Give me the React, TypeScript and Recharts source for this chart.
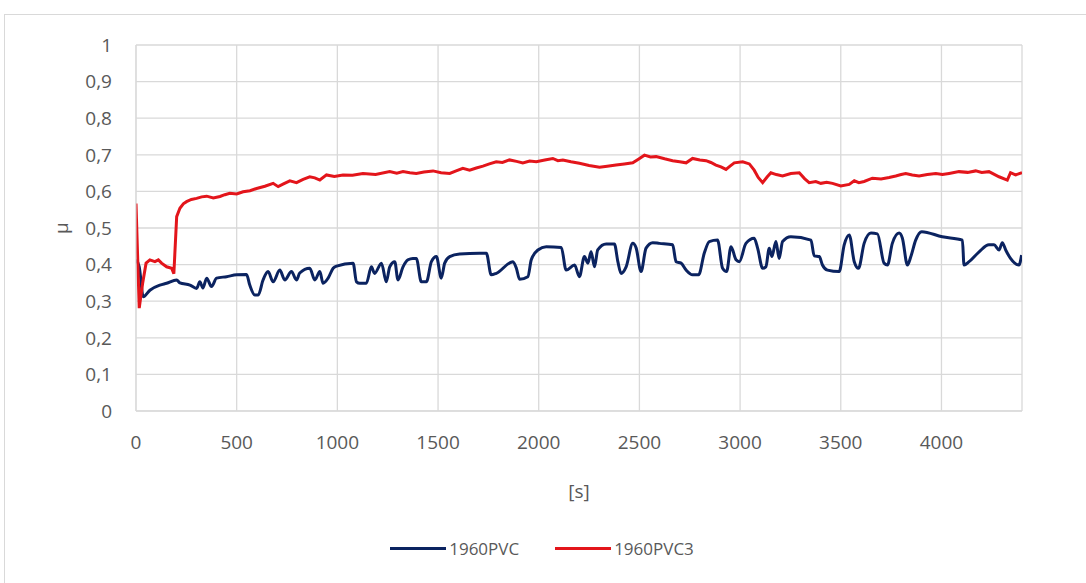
import { CartesianGrid, Legend, Line, LineChart, XAxis, YAxis } from "recharts";

// 1960PVC, time [s] and friction coefficient
const blueT = [
  0, 16, 36, 69, 119, 152, 202, 218, 268, 301, 317, 332, 351, 375, 400, 450, 500, 549, 565, 590,
  607, 631, 656, 681, 714, 739, 772, 797, 813, 863, 888, 913, 929, 954, 979, 996, 1078, 1095, 1111,
  1144, 1169, 1185, 1219, 1243, 1260, 1285, 1301, 1326, 1351, 1375, 1392, 1417, 1442, 1467, 1492,
  1516, 1533, 1558, 1607, 1706, 1740, 1764, 1789, 1872, 1889, 1905, 1946, 1963, 1996, 2037, 2112,
  2136, 2178, 2202, 2227, 2244, 2260, 2277, 2293, 2335, 2376, 2393, 2409, 2434, 2467, 2484, 2508,
  2533, 2566, 2599, 2665, 2682, 2707, 2732, 2764, 2794, 2822, 2847, 2888, 2913, 2933, 2955, 2980,
  2996, 3029, 3070, 3087, 3112, 3128, 3145, 3158, 3178, 3194, 3211, 3252, 3352, 3368, 3393, 3409,
  3434, 3492, 3517, 3542, 3567, 3588, 3616, 3650, 3682, 3715, 3732, 3756, 3790, 3806, 3831, 3848,
  3872, 3902, 4004, 4104, 4112, 4137, 4187, 4236, 4261, 4286, 4302, 4319, 4343, 4385, 4398,
];
const blueMu = [
  0.413, 0.394, 0.312, 0.33, 0.344, 0.349, 0.358, 0.35, 0.344, 0.335, 0.353, 0.336, 0.363, 0.34,
  0.363, 0.367, 0.372, 0.373, 0.344, 0.317, 0.317, 0.358, 0.381, 0.353, 0.385, 0.358, 0.381, 0.358,
  0.377, 0.39, 0.358, 0.381, 0.349, 0.363, 0.39, 0.396, 0.404, 0.353, 0.349, 0.349, 0.394, 0.376,
  0.404, 0.353, 0.394, 0.408, 0.358, 0.394, 0.413, 0.417, 0.417, 0.353, 0.353, 0.408, 0.422, 0.363,
  0.404, 0.422, 0.429, 0.431, 0.431, 0.372, 0.376, 0.408, 0.39, 0.36, 0.367, 0.413, 0.44, 0.449,
  0.447, 0.385, 0.399, 0.367, 0.422, 0.404, 0.435, 0.394, 0.44, 0.456, 0.456, 0.408, 0.376, 0.394,
  0.458, 0.445, 0.381, 0.445, 0.46, 0.458, 0.454, 0.408, 0.404, 0.385, 0.372, 0.372, 0.431, 0.463,
  0.467, 0.39, 0.381, 0.449, 0.413, 0.408, 0.458, 0.472, 0.445, 0.39, 0.394, 0.445, 0.422, 0.463,
  0.417, 0.463, 0.476, 0.467, 0.424, 0.422, 0.399, 0.385, 0.381, 0.454, 0.481, 0.408, 0.39, 0.458,
  0.486, 0.484, 0.404, 0.399, 0.458, 0.486, 0.472, 0.399, 0.422, 0.467, 0.49, 0.476, 0.467, 0.399,
  0.408, 0.435, 0.454, 0.454, 0.44, 0.46, 0.44, 0.417, 0.399, 0.426,
];

// 1960PVC3
const redT = [
  0, 16, 33, 50, 69, 94, 111, 127, 152, 177, 188, 202, 218, 235, 251, 275, 301, 326, 351, 384, 417,
  441, 466, 500, 532, 566, 599, 640, 681, 706, 735, 764, 797, 830, 863, 888, 913, 946, 985, 1028,
  1075, 1127, 1190, 1260, 1295, 1326, 1360, 1392, 1430, 1475, 1515, 1558, 1590, 1623, 1657, 1690,
  1723, 1755, 1789, 1820, 1855, 1890, 1921, 1955, 1988, 2030, 2070, 2095, 2120, 2160, 2202, 2250,
  2302, 2340, 2384, 2425, 2467, 2495, 2525, 2555, 2583, 2625, 2665, 2700, 2732, 2764, 2800, 2831,
  2855, 2880, 2905, 2930, 2950, 2971, 3013, 3046, 3070, 3090, 3112, 3135, 3153, 3180, 3211, 3252,
  3294, 3320, 3343, 3376, 3401, 3430, 3459, 3500, 3542, 3567, 3590, 3616, 3657, 3700, 3740, 3773,
  3800, 3823, 3855, 3889, 3930, 3972, 4005, 4038, 4087, 4130, 4170, 4200, 4236, 4286, 4327, 4343,
  4368, 4400,
];
const redMu = [
  0.567, 0.281, 0.349, 0.404, 0.413, 0.408, 0.413, 0.404, 0.394, 0.39, 0.375, 0.531, 0.554, 0.566,
  0.572, 0.578, 0.581, 0.585, 0.587, 0.582, 0.586, 0.591, 0.595, 0.593, 0.599, 0.602, 0.608, 0.614,
  0.622, 0.613, 0.621, 0.629, 0.624, 0.633, 0.64, 0.637, 0.631, 0.645, 0.641, 0.645, 0.644, 0.649,
  0.646, 0.654, 0.65, 0.654, 0.651, 0.649, 0.653, 0.656, 0.651, 0.649, 0.656, 0.663, 0.658, 0.664,
  0.669, 0.675, 0.681, 0.679, 0.686, 0.682, 0.678, 0.683, 0.681, 0.686, 0.69, 0.684, 0.686, 0.681,
  0.677, 0.671, 0.666, 0.669, 0.672, 0.675, 0.678, 0.688, 0.699, 0.694, 0.695, 0.689, 0.684, 0.681,
  0.678, 0.69, 0.686, 0.684, 0.679, 0.672, 0.667, 0.66, 0.669, 0.678, 0.681, 0.675, 0.658, 0.638,
  0.624, 0.64, 0.651, 0.646, 0.642, 0.649, 0.651, 0.635, 0.624, 0.627, 0.622, 0.625, 0.622, 0.615,
  0.619, 0.629, 0.624, 0.627, 0.636, 0.634, 0.638, 0.642, 0.646, 0.649, 0.645, 0.642, 0.646, 0.649,
  0.646, 0.649, 0.654, 0.652, 0.656, 0.652, 0.654, 0.64, 0.631, 0.651, 0.645, 0.651,
];

const xTicks = [0, 500, 1000, 1500, 2000, 2500, 3000, 3500, 4000];
const yTicks = [0, 0.1, 0.2, 0.3, 0.4, 0.5, 0.6, 0.7, 0.8, 0.9, 1];

const seriesNames = ["1960PVC", "1960PVC3"];
const seriesColors = ["#0b2360", "#e3151b"];

const bluePoints = blueT.map((t, i) => ({ t, mu: blueMu[i] }));
const redPoints = redT.map((t, i) => ({ t, mu: redMu[i] }));

const FONT = "'Open Sans', 'Noto Sans', sans-serif";
const TEXT = "#595959";

const LegendBox = () => (
  <div
    style={{
      height: 77,
      paddingTop: 30,
      paddingLeft: 22,
      boxSizing: "border-box",
      display: "flex",
      justifyContent: "center",
      gap: 36,
      fontFamily: FONT,
      fontSize: 17,
      color: TEXT,
    }}
  >
    {seriesNames.map((name, i) => (
      <div key={name} style={{ display: "flex", alignItems: "center", height: 24 }}>
        <span
          style={{ display: "inline-block", width: 56, height: 3, background: seriesColors[i], marginRight: 3 }}
        />
        <span>{name}</span>
      </div>
    ))}
  </div>
);

export default function App() {
  return (
    <div style={{ position: "absolute", left: 0, top: 0, width: 1086, height: 583, overflow: "hidden", background: "#fff" }}>
      <div
        style={{
          position: "absolute",
          left: 4,
          top: 14,
          width: 1100,
          height: 600,
          border: "1px solid #d9d9d9",
        }}
      />
      <LineChart
        width={1086}
        height={583}
        margin={{ top: 45, right: 64, bottom: 0, left: 40 }}
        style={{ position: "absolute", left: 0, top: 0 }}
      >
        <CartesianGrid stroke="#d9d9d9" strokeWidth={1.3} />
        <XAxis
          type="number"
          dataKey="t"
          domain={[0, 4400]}
          ticks={xTicks}
          allowDataOverflow
          height={95}
          stroke="#d9d9d9"
          tickLine={false}
          tickSize={8}
          tickMargin={17}
          tick={{ fill: TEXT, fontSize: 19, fontFamily: FONT }}
          label={{ value: "[s]", position: "insideBottom", offset: 8, fill: TEXT, fontSize: 19, fontFamily: FONT }}
        />
        <YAxis
          type="number"
          dataKey="mu"
          domain={[0, 1]}
          ticks={yTicks}
          width={96}
          stroke="#d9d9d9"
          tickLine={false}
          tickSize={8}
          tickMargin={16}
          tickFormatter={(v: number) => String(v).replace(".", ",")}
          tick={{ fill: TEXT, fontSize: 19, fontFamily: FONT }}
          label={{ value: "μ", angle: -90, position: "insideLeft", offset: 21, dy: 6, fill: TEXT, fontSize: 19, fontFamily: FONT }}
        />
        <Legend verticalAlign="bottom" content={() => <LegendBox />} />
        <Line
          data={bluePoints}
          dataKey="mu"
          name={seriesNames[0]}
          type="monotone"
          stroke={seriesColors[0]}
          strokeWidth={3}
          dot={false}
          isAnimationActive={false}
        />
        <Line
          data={redPoints}
          dataKey="mu"
          name={seriesNames[1]}
          type="linear"
          stroke={seriesColors[1]}
          strokeWidth={3}
          dot={false}
          isAnimationActive={false}
        />
      </LineChart>
    </div>
  );
}
